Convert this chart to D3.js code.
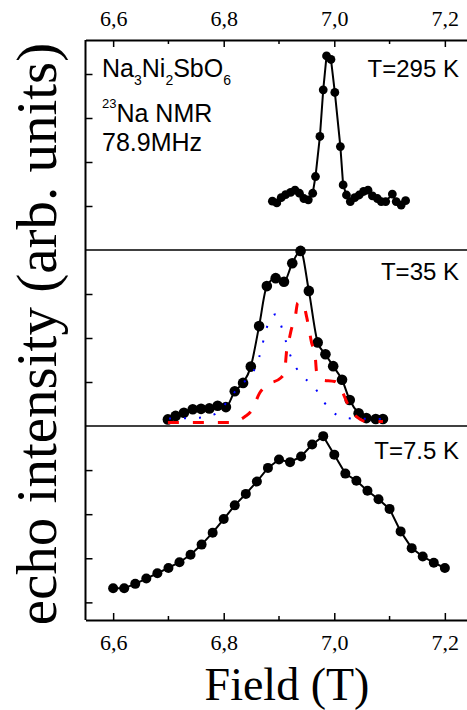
<!DOCTYPE html>
<html>
<head>
<meta charset="utf-8">
<script src="https://cdn.jsdelivr.net/npm/d3@7/dist/d3.min.js"></script>
<style>
    body { margin: 0; background: #fff; }
    svg { display: block; }
    .serif { font-family: "Liberation Serif", "Times New Roman", serif; }
    .sans { font-family: "Liberation Sans", Arial, sans-serif; }
</style>
</head>
<body>
<svg id="chart" width="467" height="710"></svg>
<script>
// ----------------------------------------------------------------------------
// Data (intensities in arbitrary units)
// ----------------------------------------------------------------------------

// T = 295 K
var field295 = [6.888, 6.896, 6.904, 6.912, 6.921, 6.929, 6.937, 6.945, 6.953, 6.961,
                6.966, 6.974, 6.980, 6.986, 6.994, 7.001, 7.011, 7.016, 7.022, 7.029,
                7.037, 7.045, 7.053, 7.061, 7.069, 7.078, 7.085, 7.093, 7.105, 7.112,
                7.121, 7.129];
var echo295 = [1.11, 1.07, 1.19, 1.26, 1.31, 1.36, 1.29, 1.17, 1.14, 1.29,
               1.67, 2.58, 3.64, 4.41, 4.33, 3.58, 2.35, 1.48, 1.25, 1.10,
               1.19, 1.25, 1.33, 1.36, 1.23, 1.17, 1.10, 1.10, 1.27, 1.10,
               1.02, 1.12];

// T = 35 K
var field35 = [6.699, 6.713, 6.728, 6.744, 6.759, 6.774, 6.789, 6.804, 6.820, 6.835,
               6.849, 6.864, 6.878, 6.894, 6.909, 6.924, 6.939, 6.954, 6.970, 6.984,
               6.998, 7.014, 7.028, 7.044, 7.058, 7.075, 7.088];
var echo35 = [0.15, 0.23, 0.30, 0.38, 0.39, 0.40, 0.46, 0.43, 0.79, 0.98,
              1.35, 2.27, 3.18, 3.36, 3.28, 3.70, 3.98, 3.07, 1.90, 1.63,
              1.36, 1.05, 0.59, 0.29, 0.18, 0.16, 0.16];

// T = 35 K, red dashed component
var redField35 = [6.699, 6.811, 6.838, 6.851, 6.865, 6.878, 6.903, 6.910, 6.914, 6.918,
                  6.923, 6.929, 6.934, 6.943, 6.950, 6.954, 6.959, 6.965, 6.968, 6.977,
                  7.001, 7.013, 7.025, 7.037, 7.046, 7.055, 7.088];
var redEcho35 = [0.08, 0.08, 0.21, 0.36, 0.75, 0.93, 1.09, 1.23, 1.73, 1.95,
                 2.23, 2.45, 2.80, 2.80, 2.48, 2.23, 1.89, 1.66, 1.23, 1.05,
                 1.01, 0.82, 0.48, 0.25, 0.16, 0.11, 0.10];

// T = 35 K, blue dotted component
var blueField35 = [6.701, 6.757, 6.784, 6.808, 6.829, 6.853, 6.864, 6.871, 6.878, 6.894,
                   6.906, 6.914, 6.923, 6.939, 6.963, 6.981, 7.005, 7.032, 7.088];
var blueEcho35 = [0.17, 0.19, 0.27, 0.58, 0.92, 1.22, 1.56, 1.90, 2.24, 2.54,
                  2.20, 1.86, 1.52, 1.18, 0.90, 0.55, 0.25, 0.17, 0.16];

// T = 7.5 K
var field75 = [6.60, 6.62, 6.64, 6.66, 6.68, 6.70, 6.72, 6.74, 6.76, 6.78,
               6.80, 6.82, 6.84, 6.86, 6.88, 6.90, 6.92, 6.94, 6.96, 6.98,
               7.00, 7.02, 7.04, 7.06, 7.08, 7.10, 7.12, 7.14, 7.16, 7.18, 7.20];
var echo75 = [0.32, 0.32, 0.42, 0.54, 0.66, 0.78, 0.91, 1.08, 1.31, 1.58,
              1.89, 2.20, 2.46, 2.74, 3.05, 3.24, 3.18, 3.31, 3.58, 3.77,
              3.35, 2.92, 2.76, 2.53, 2.34, 2.12, 1.61, 1.23, 1.04, 0.90, 0.78];

// Axis ticks and labels
var fieldTicks = [6.6, 6.8, 7.0, 7.2];
var fieldMinorTicks = [6.7, 6.9, 7.1];
var panelLabels = ["T=295 K", "T=35 K", "T=7.5 K"];
var panelYDomains = [[0, 210 / 44], [0, 4], [-0.4, 4.0]];
var panelYTicks = [[1, 2, 3, 4], [1, 2, 3], [0, 1, 2, 3]];


// ----------------------------------------------------------------------------
// Layout
// ----------------------------------------------------------------------------

var svg = d3.select("#chart");
var left = 85.5, right = 472.5;
var panelTops = [40, 250, 426];
var panelBottoms = [250, 426, 620];

var x = d3.scaleLinear().domain([6.55, 7.25]).range([left, right]);

var commaFormat = function(d) { return d3.format(".1f")(d).replace(".", ","); };

function makeY(i) {
    return d3.scaleLinear().domain(panelYDomains[i]).range([panelBottoms[i], panelTops[i]]);
}

function zip(xs, ys) {
    return xs.map(function(v, i) { return {f: v, e: ys[i]}; });
}


// ----------------------------------------------------------------------------
// Drawing
// ----------------------------------------------------------------------------

// Draws one stacked panel: y ticks, curve, markers.
function drawPanel(i, data, radius, curve) {
    var y = makeY(i);
    var g = svg.append("g");

    // left ticks pointing inward
    g.append("g")
        .attr("transform", "translate(" + left + ",0)")
        .call(d3.axisRight(y).tickValues(panelYTicks[i]).tickSize(7).tickFormat(""))
        .call(function(a) {
            a.select(".domain").remove();
            a.selectAll("line").attr("stroke", "#000").attr("stroke-width", 1.5);
        });

    var line = d3.line()
        .x(function(d) { return x(d.f); })
        .y(function(d) { return y(d.e); })
        .curve(curve);

    g.append("path")
        .datum(data)
        .attr("fill", "none")
        .attr("stroke", "#000")
        .attr("stroke-width", 2)
        .attr("d", line);

    g.selectAll("circle")
        .data(data)
        .enter().append("circle")
        .attr("cx", function(d) { return x(d.f); })
        .attr("cy", function(d) { return y(d.e); })
        .attr("r", radius)
        .attr("fill", "#000");

    g.append("text")
        .attr("class", "sans")
        .attr("x", 459)
        .attr("y", [76.5, 279.5, 458.5][i])
        .attr("text-anchor", "end")
        .attr("font-size", 24)
        .text(panelLabels[i]);

    return y;
}

drawPanel(0, zip(field295, echo295), 4.4, d3.curveLinear);
var y35 = drawPanel(1, zip(field35, echo35), 5.3, d3.curveMonotoneX);
drawPanel(2, zip(field75, echo75), 5, d3.curveLinear);

// fit components for T = 35 K
var fitLine = d3.line()
    .x(function(d) { return x(d.f); })
    .y(function(d) { return y35(d.e); })
    .curve(d3.curveMonotoneX);

svg.append("path")
    .datum(zip(blueField35, blueEcho35))
    .attr("fill", "none")
    .attr("stroke", "#0000ff")
    .attr("stroke-width", 2)
    .attr("stroke-dasharray", "2,13")
    .attr("d", fitLine);

svg.append("path")
    .datum(zip(redField35, redEcho35))
    .attr("fill", "none")
    .attr("stroke", "#ff0000")
    .attr("stroke-width", 3)
    .attr("stroke-dasharray", "11,14")
    .attr("d", fitLine);

// frame: left spine and panel separators
svg.append("line")
    .attr("x1", left).attr("x2", left)
    .attr("y1", panelTops[0]).attr("y2", panelBottoms[2])
    .attr("stroke", "#000").attr("stroke-width", 2);

[panelBottoms[0], panelBottoms[1]].forEach(function(yy) {
    svg.append("line")
        .attr("x1", left).attr("x2", right)
        .attr("y1", yy).attr("y2", yy)
        .attr("stroke", "#000").attr("stroke-width", 1.5);
});

// top and bottom field axes
function styleAxis(a) {
    a.select(".domain").attr("stroke", "#000").attr("stroke-width", 2);
    a.selectAll("line").attr("stroke", "#000").attr("stroke-width", 1.5);
    a.selectAll("text")
        .attr("class", "serif")
        .attr("font-size", 22)
        .attr("fill", "#000");
}

var topAxis = svg.append("g")
    .attr("transform", "translate(0," + panelTops[0] + ")")
    .call(d3.axisTop(x).tickValues(fieldTicks).tickSize(-7).tickSizeOuter(0)
        .tickPadding(14).tickFormat(commaFormat))
    .call(styleAxis);

var bottomAxis = svg.append("g")
    .attr("transform", "translate(0," + panelBottoms[2] + ")")
    .call(d3.axisBottom(x).tickValues(fieldTicks).tickSize(-7).tickSizeOuter(0)
        .tickPadding(14).tickFormat(commaFormat))
    .call(styleAxis);

// minor ticks
[[panelTops[0], 1], [panelBottoms[2], -1]].forEach(function(p) {
    svg.selectAll(null)
        .data(fieldMinorTicks)
        .enter().append("line")
        .attr("x1", function(d) { return x(d); })
        .attr("x2", function(d) { return x(d); })
        .attr("y1", p[0])
        .attr("y2", p[0] + 4 * p[1])
        .attr("stroke", "#000").attr("stroke-width", 1.5);
});

// axis titles
svg.append("text")
    .attr("class", "serif")
    .attr("x", 287)
    .attr("y", 700)
    .attr("text-anchor", "middle")
    .attr("font-size", 46)
    .text("Field (T)");

svg.append("text")
    .attr("class", "serif")
    .attr("transform", "translate(56,334) rotate(-90)")
    .attr("text-anchor", "middle")
    .attr("font-size", 57)
    .text("echo intensity (arb. units)");

// sample annotation
var note = svg.append("text")
    .attr("class", "sans")
    .attr("x", 102)
    .attr("y", 76.5)
    .attr("font-size", 25);
note.append("tspan").text("Na");
note.append("tspan").attr("font-size", 14).attr("dy", 8).text("3");
note.append("tspan").attr("dy", -8).text("Ni");
note.append("tspan").attr("font-size", 14).attr("dy", 8).text("2");
note.append("tspan").attr("dy", -8).text("SbO");
note.append("tspan").attr("font-size", 14).attr("dy", 8).text("6");

var nmr = svg.append("text")
    .attr("class", "sans")
    .attr("x", 102)
    .attr("y", 108)
    .attr("font-size", 13);
nmr.append("tspan").text("23");
nmr.append("tspan").attr("font-size", 25).attr("dy", 13.5).text("Na NMR");

svg.append("text")
    .attr("class", "sans")
    .attr("x", 102)
    .attr("y", 150.5)
    .attr("font-size", 25)
    .text("78.9MHz");
</script>
</body>
</html>
